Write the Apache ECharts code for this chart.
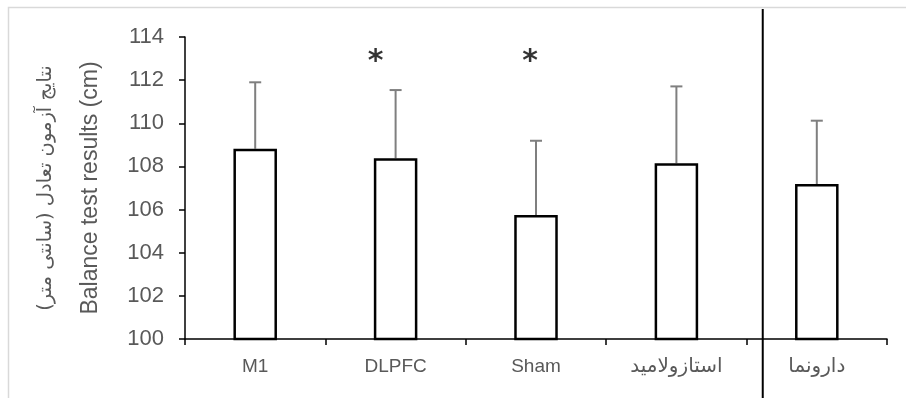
<!DOCTYPE html>
<html>
<head>
<meta charset="UTF-8">
<title>Balance test</title>
<script src="https://cdn.jsdelivr.net/npm/echarts@6/dist/echarts.min.js"></script>
</head>
<body style="margin:0">
<div id="chart" style="width:906px;height:398px;"></div>
<script>
// values
var groups = ['M1', 'DLPFC', 'Sham', 'استازولامید', 'دارونما'];
var means = [108.82, 108.38, 105.75, 108.15, 107.18];
var errors = [3.08, 3.16, 3.44, 3.56, 2.94];
var starGroups = ['DLPFC', 'Sham'];
var starLevel = 113.1;
var dividerAfter = 3;   // vertical line sits after this category index
var yMin = 100, yMax = 114, yStep = 2;

var txt = '#595959';
var chart = echarts.init(document.getElementById('chart'));

var errData = groups.map(function (g, i) { return [i, means[i], means[i] + errors[i]]; });
var starShift = [-20, -6];
var starData = starGroups.map(function (g, i) {
    return { value: [g, starLevel], label: { offset: [starShift[i], 6] } };
});

var option = {
    backgroundColor: '#fff',
    animation: false,
    grid: { left: 185, right: 19, top: 37, bottom: 59 },
    graphic: [{
        type: 'rect',
        shape: { x: 8.5, y: 7.5, width: 1000, height: 1000 },
        style: { fill: 'none', stroke: '#d9d9d9', lineWidth: 1.5 },
        silent: true
    }],
    xAxis: {
        type: 'category',
        data: groups,
        axisLine: { lineStyle: { color: '#000', width: 1.5 } },
        axisTick: { show: true, length: 6, lineStyle: { color: '#000', width: 1.5 } },
        axisLabel: {
            margin: 18,
            formatter: function (v) {
                return /[\u0600-\u06FF]/.test(v) ? '{fa|' + v + '}' : '{en|' + v + '}';
            },
            rich: {
                en: { color: txt, fontSize: 19, fontFamily: 'Liberation Sans' },
                fa: { color: txt, fontSize: 20, fontFamily: 'DejaVu Sans' }
            }
        }
    },
    yAxis: {
        type: 'value',
        min: yMin, max: yMax, interval: yStep,
        splitLine: { show: false },
        axisLine: { show: true, lineStyle: { color: '#000', width: 1.5 } },
        axisTick: { show: true, length: 6, lineStyle: { color: '#000', width: 1.5 } },
        axisLabel: { color: txt, fontSize: 22, margin: 21, fontFamily: 'Liberation Sans' },
        name: '{fa|نتایج آزمون تعادل (سانتی متر)}\n{en|Balance test results (cm)}',
        nameLocation: 'middle',
        nameGap: 72,
        nameTextStyle: {
            rich: {
                fa: { color: txt, fontSize: 19.5, lineHeight: 45, fontFamily: 'DejaVu Sans' },
                en: { color: txt, fontSize: 23, lineHeight: 45, fontFamily: 'Liberation Sans' }
            }
        }
    },
    series: [{
        type: 'bar',
        data: means,
        barWidth: '31%',
        itemStyle: { color: '#fff', borderColor: '#000', borderWidth: 2.5 },
        z: 2
    }, {
        type: 'custom',
        data: errData,
        z: 1,
        renderItem: function (params, api) {
            var base = api.coord([api.value(0), api.value(1)]);
            var top = api.coord([api.value(0), api.value(2)]);
            var st = { stroke: '#7f7f7f', lineWidth: 2 };
            return {
                type: 'group',
                children: [
                    { type: 'line', shape: { x1: base[0], y1: base[1], x2: top[0], y2: top[1] }, style: st },
                    { type: 'line', shape: { x1: top[0] - 6, y1: top[1], x2: top[0] + 6, y2: top[1] }, style: st }
                ]
            };
        }
    }, {
        type: 'scatter',
        data: starData,
        symbolSize: 0,
        label: {
            show: true, position: 'inside', formatter: '*',
            color: '#000', fontSize: 30, fontWeight: 'bold', fontFamily: 'DejaVu Sans'
        }
    }, {
        type: 'custom',
        data: [[dividerAfter, yMin]],
        clip: false,
        renderItem: function (params, api) {
            var c = api.coord([api.value(0), api.value(1)]);
            var w = api.size([1, 0])[0];
            var x = c[0] + w * 0.615;
            var yTop = api.coord([api.value(0), yMax])[1] - 28;
            return {
                type: 'line',
                shape: { x1: x, y1: yTop, x2: x, y2: 400 },
                style: { stroke: '#000', lineWidth: 2 }
            };
        }
    }]
};
chart.setOption(option);
</script>
</body>
</html>
